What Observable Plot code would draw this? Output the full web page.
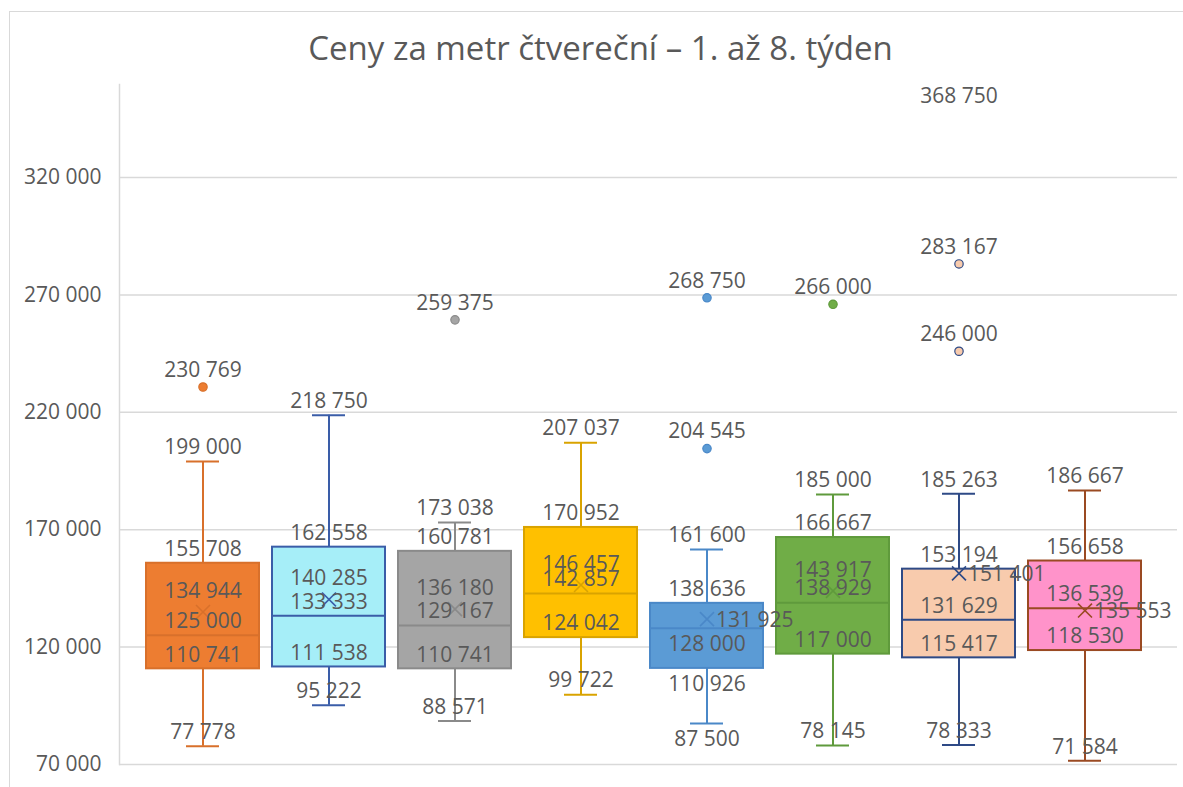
<!DOCTYPE html>
<html>
<head>
<meta charset="utf-8">
<script src="https://cdn.jsdelivr.net/npm/d3@7"></script>
<script src="https://cdn.jsdelivr.net/npm/@observablehq/plot@0.6"></script>
<style>
  html, body { margin: 0; padding: 0; background: #fff; }
  #frame { position: absolute; left: 9px; top: 11px; width: 1200px; height: 800px;
           border-left: 1.5px solid #d9d9d9; border-top: 1.5px solid #d9d9d9; box-sizing: border-box; }
  #title { position: absolute; left: 9px; width: 1183px; top: 26px; text-align: center;
           font-family: "Open Sans", sans-serif; font-size: 33px; color: #595959; line-height: 44px; }
  #chart { position: absolute; left: 0; top: 60px; }
</style>
</head>
<body>
<div id="frame"></div>
<div id="title">Ceny za metr čtvereční – 1. až 8. týden</div>
<div id="chart"></div>
<script>
// ---- data ----
const weeks = ["1. týden", "2. týden", "3. týden", "4. týden", "5. týden", "6. týden", "7. týden", "8. týden"];
const whiskerLow  = [77778, 95222, 88571, 99722, 87500, 78145, 78333, 71584];
const q1          = [110741, 111538, 110741, 124042, 110926, 117000, 115417, 118530];
const median      = [125000, 133333, 129167, 142857, 128000, 138929, 131629, 136539];
const q3          = [155708, 162558, 160781, 170952, 138636, 166667, 153194, 156658];
const whiskerHigh = [199000, 218750, 173038, 207037, 161600, 185000, 185263, 186667];
const mean        = [134944, 140285, 136180, 146457, 131925, 143917, 151401, 135553];
const outlierWeek  = [0, 2, 4, 4, 5, 6, 6, 6];
const outlierValue = [230769, 259375, 268750, 204545, 266000, 368750, 283167, 246000];
const yTicks = [70000, 120000, 170000, 220000, 270000, 320000];

// ---- styling (not data) ----
const fills   = ["#ED7D31", "#A6EEF8", "#A5A5A5", "#FFC000", "#5B9BD5", "#70AD47", "#F8CBAD", "#FF93CA"];
const strokes = ["#D8702B", "#3A5DA8", "#8A8A8A", "#D9A300", "#4A88C8", "#5F9A3C", "#2E4A86", "#9A4A22"];
const meanSide  = ["above", "above", "above", "above", "right", "above", "right", "right"];
const lowerSide = ["above", "above", "above", "above", "below", "above", "above", "above"];
const yMax = 359600;

const boxes = weeks.map((w, i) => ({
  week: w, lo: whiskerLow[i], q1: q1[i], med: median[i], q3: q3[i], hi: whiskerHigh[i],
  mean: mean[i], fill: fills[i], stroke: strokes[i]
}));
const outliers = outlierValue.map((v, j) => ({
  week: weeks[outlierWeek[j]], value: v, fill: fills[outlierWeek[j]], stroke: strokes[outlierWeek[j]]
}));

const locale = d3.formatLocale({decimal: ",", thousands: " ", grouping: [3], currency: ["", ""]});
const fmt = locale.format(",d");

const labels = [];
boxes.forEach((b, i) => {
  labels.push({week: b.week, value: b.hi, side: "above"});
  labels.push({week: b.week, value: b.q3, side: "above"});
  labels.push({week: b.week, value: b.mean, side: meanSide[i] === "right" ? "right" : "meanAbove"});
  labels.push({week: b.week, value: b.med, side: lowerSide[i]});
  labels.push({week: b.week, value: b.q1, side: lowerSide[i]});
  labels.push({week: b.week, value: b.lo, side: lowerSide[i]});
});
outliers.forEach(o => {
  labels.push({week: o.week, value: o.value, side: o.value > yMax ? "clamped" : "outlier"});
});
const pick = s => labels.filter(d => d.side === s);
const txt = {fontSize: 21, fill: "#595959", text: d => fmt(d.value)};

const chart = Plot.plot({
  width: 1183,
  height: 727,
  marginLeft: 119,
  marginRight: 6,
  marginTop: 24,
  marginBottom: 23,
  style: {fontFamily: "'Open Sans', sans-serif", fontSize: "21px", color: "#595959", background: "transparent", overflow: "visible"},
  x: {type: "band", domain: weeks, paddingInner: 0.1, paddingOuter: 0.05, insetLeft: 19, insetRight: 27, axis: null},
  y: {domain: [70000, yMax], axis: null},
  marks: [
    Plot.gridY(yTicks, {stroke: "#d9d9d9", strokeOpacity: 1, strokeWidth: 1.5}),
    Plot.frame({anchor: "left", stroke: "#d9d9d9", strokeWidth: 1.5}),
    Plot.axisY(yTicks, {tickSize: 0, tickPadding: 18, tickFormat: fmt, fontSize: 21, fill: "#595959"}),
    // whiskers
    Plot.ruleX(boxes, {x: "week", y1: "q3", y2: "hi", stroke: "stroke", strokeWidth: 2}),
    Plot.ruleX(boxes, {x: "week", y1: "lo", y2: "q1", stroke: "stroke", strokeWidth: 2}),
    Plot.tickY(boxes, {x: "week", y: "hi", stroke: "stroke", strokeWidth: 2, insetLeft: 40, insetRight: 40}),
    Plot.tickY(boxes, {x: "week", y: "lo", stroke: "stroke", strokeWidth: 2, insetLeft: 40, insetRight: 40}),
    // boxes
    Plot.barY(boxes, {x: "week", y1: "q1", y2: "q3", fill: "fill", stroke: "stroke", strokeWidth: 2}),
    Plot.tickY(boxes, {x: "week", y: "med", stroke: "stroke", strokeWidth: 2}),
    Plot.dot(boxes, {x: "week", y: "mean", symbol: "times", r: 6.4, stroke: "stroke", strokeWidth: 1.6}),
    // outliers
    Plot.dot(outliers, {x: "week", y: "value", r: 4.2, fill: "fill", stroke: "stroke", strokeWidth: 1.2, clip: true}),
    // labels
    Plot.text(pick("above"), {x: "week", y: "value", dy: -14, ...txt}),
    Plot.text(pick("meanAbove"), {x: "week", y: "value", dy: -21, ...txt}),
    Plot.text(pick("below"), {x: "week", y: "value", dy: 16, ...txt}),
    Plot.text(pick("right"), {x: "week", y: "value", dx: 9, dy: 1, textAnchor: "start", ...txt}),
    Plot.text(pick("outlier"), {x: "week", y: "value", dy: -17, ...txt}),
    Plot.text(pick("clamped"), {x: "week", y: () => yMax, dy: 12, ...txt})
  ]
});
document.getElementById("chart").appendChild(chart);
</script>
</body>
</html>
